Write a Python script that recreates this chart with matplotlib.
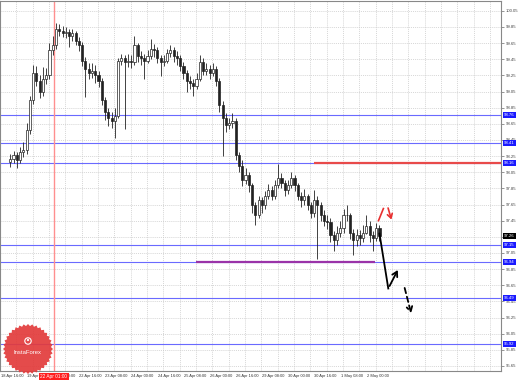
import numpy as np
import matplotlib
matplotlib.use('Agg')
import matplotlib.pyplot as plt
import matplotlib.transforms as mtransforms
from matplotlib.patches import Polygon, Circle

plt.rcParams['font.family'] = ['Liberation Sans', 'DejaVu Sans']

# 2-hour bars, x in trading hours from 18 Apr 16:00
open_first = 98.18
closes = [98.22, 98.26, 98.20, 98.30, 98.32, 98.57, 98.94, 99.28, 99.18, 99.04,
          99.21, 99.25, 99.56, 99.62, 99.83, 99.80, 99.78, 99.79, 99.74, 99.77,
          99.68, 99.62, 99.43, 99.33, 99.28, 99.31, 99.25, 99.18, 98.94, 98.79,
          98.72, 98.69, 98.75, 99.43, 99.46, 99.41, 99.43, 99.41, 99.62, 99.49,
          99.46, 99.43, 99.49, 99.58, 99.56, 99.46, 99.41, 99.43, 99.53, 99.56,
          99.49, 99.46, 99.37, 99.28, 99.18, 99.15, 99.12, 99.21, 99.41, 99.31,
          99.33, 99.28, 99.33, 99.18, 98.88, 98.72, 98.63, 98.66, 98.69, 98.26,
          98.13, 97.95, 98.01, 97.89, 97.64, 97.52, 97.70, 97.64, 97.76, 97.83,
          97.76, 97.89, 97.98, 97.92, 97.83, 97.89, 97.98, 97.89, 97.76, 97.70,
          97.76, 97.64, 97.55, 97.70, 97.64, 97.52, 97.45, 97.43, 97.27, 97.21,
          97.30, 97.36, 97.52, 97.52, 97.30, 97.21, 97.27, 97.24, 97.30, 97.39,
          97.27, 97.24, 97.36, 97.26]
highs = [98.28, 98.31, 98.30, 98.36, 98.43, 98.66, 99.00, 99.38, 99.36, 99.25,
         99.35, 99.34, 99.65, 99.74, 99.90, 99.89, 99.86, 99.85, 99.83, 99.83,
         99.80, 99.72, 99.66, 99.48, 99.40, 99.40, 99.38, 99.30, 99.22, 98.98,
         98.85, 98.80, 98.85, 99.47, 99.52, 99.50, 99.52, 99.50, 99.74, 99.65,
         99.55, 99.52, 99.57, 99.70, 99.64, 99.60, 99.50, 99.50, 99.58, 99.62,
         99.60, 99.55, 99.50, 99.42, 99.32, 99.24, 99.20, 99.28, 99.50, 99.46,
         99.40, 99.38, 99.40, 99.36, 99.22, 98.93, 98.78, 98.72, 98.78, 98.72,
         98.30, 98.20, 98.10, 98.05, 97.92, 97.68, 97.76, 97.74, 97.82, 97.90,
         97.88, 97.95, 98.15, 98.04, 97.96, 97.95, 98.05, 98.02, 97.92, 97.80,
         97.84, 97.78, 97.68, 97.83, 97.75, 97.68, 97.58, 97.52, 97.48, 97.32,
         97.38, 97.45, 97.60, 97.64, 97.55, 97.35, 97.35, 97.33, 97.40, 97.52,
         97.44, 97.32, 97.42, 97.40]
lows = [98.12, 98.17, 98.10, 98.16, 98.24, 98.28, 98.52, 98.90, 99.12, 98.97,
        99.00, 99.14, 99.20, 99.50, 99.58, 99.74, 99.72, 99.71, 99.60, 99.68,
        99.62, 99.55, 99.36, 98.98, 99.20, 99.22, 99.15, 99.10, 98.88, 98.70,
        98.62, 98.60, 98.48, 98.72, 99.38, 98.58, 99.35, 99.34, 99.38, 99.42,
        99.38, 99.20, 99.40, 99.45, 99.48, 99.40, 99.24, 99.36, 99.40, 99.48,
        99.42, 99.38, 99.30, 99.20, 99.05, 99.08, 99.00, 99.08, 99.18, 99.25,
        99.25, 99.20, 99.24, 99.12, 98.80, 98.25, 98.55, 98.58, 98.60, 98.20,
        98.05, 97.88, 97.90, 97.80, 97.55, 97.40, 97.48, 97.55, 97.60, 97.72,
        97.70, 97.72, 97.85, 97.85, 97.76, 97.78, 97.85, 97.82, 97.70, 97.62,
        97.65, 97.58, 97.48, 97.50, 96.98, 97.45, 97.38, 97.35, 97.18, 97.08,
        97.15, 97.25, 97.30, 97.45, 97.22, 97.03, 97.14, 97.15, 97.18, 97.28,
        97.18, 97.08, 97.20, 97.20]

time_labels = ['18 Apr 16:00', '19 Apr 08:00', '22 Apr 00:00', '22 Apr 16:00',
               '23 Apr 08:00', '24 Apr 00:00', '24 Apr 16:00', '25 Apr 08:00',
               '26 Apr 00:00', '26 Apr 16:00', '29 Apr 08:00', '30 Apr 00:00',
               '30 Apr 16:00', '1 May 08:00', '2 May 00:00']
time_pos = [0, 16, 32, 48, 64, 80, 96, 112, 128, 144, 160, 176, 192, 208, 224]

blue_levels = [98.76, 98.41, 98.16, 97.15, 96.94, 96.49, 95.92]
red_level = 98.16
purple_level = 96.94
current_price = 97.26
vline_pos = 33.6
vline_label = '22 Apr 01:00'

# hand-drawn forecast arrows (hour, price)
black_path = [(233.0, 97.29), (238.4, 96.61), (245.0, 96.87)]
black_dash = [(248.0, 96.65), (252.8, 96.27)]
red_path = [(232.4, 97.45), (235.4, 97.60), (237.8, 97.64), (240.8, 97.43)]

fig = plt.figure(figsize=(5.19, 3.80), dpi=100)
ax = fig.add_axes([0, 9/380, 501/519, 1 - 9/380 - 0.002])
ax.set_xlim(6.55, 307.4)
ax.set_ylim(95.588, 100.174)

# grid
yt = np.round(np.arange(100.05, 95.6, -0.2), 2)
ax.set_yticks(yt)
ax.set_yticklabels(['%.2f' % v for v in yt])
ax.yaxis.tick_right()
ax.tick_params(axis='y', labelsize=3.1, length=2, width=0.4, pad=1.2,
               colors='#444444')
ax.set_xticks(np.arange(0.7, 307, 10))
ax.tick_params(axis='x', length=0, labelbottom=False)
ax.grid(True, color='#c8c8c8', lw=0.5, ls=(0, (1.5, 1.5)))
for s in ax.spines.values():
    s.set_color('#888888')
    s.set_linewidth(0.8)

# candles
c = np.array(closes)
o = np.array([open_first] + closes[:-1])
x = 7 + 2 * np.arange(len(c))
up = c >= o
ax.vlines(x, lows, highs, color='#222222', lw=0.6, zorder=3)
ax.bar(x[up], (c - o)[up], bottom=o[up], width=1.3, color='white',
       edgecolor='#222222', lw=0.5, zorder=4)
ax.bar(x[~up], (c - o)[~up], bottom=o[~up], width=1.3, color='#222222',
       edgecolor='#222222', lw=0.5, zorder=4)

# levels
for lv in blue_levels:
    ax.axhline(lv, color='#6a6aff', lw=0.8, zorder=2)
ax.hlines(red_level, 193, 307.4, color='#e84a4a', lw=1.6, zorder=2.5)
ax.hlines(purple_level, 120.5, 230.5, color='#9a33a8', lw=1.6, zorder=2.5)
ax.axvline(vline_pos, color='#ff8f8f', lw=1.0, zorder=2)

# arrows
bx, by = zip(*black_path)
ax.plot(bx[:2], by[:2], color='black', lw=1.3, zorder=6)
ax.annotate('', xy=black_path[2], xytext=black_path[1],
            arrowprops=dict(arrowstyle='->,head_length=0.35,head_width=0.2',
                            color='black', lw=1.3), zorder=6)
ax.annotate('', xy=black_dash[1], xytext=black_dash[0],
            arrowprops=dict(arrowstyle='->,head_length=0.35,head_width=0.2',
                            color='black', lw=1.3, ls=(0, (3, 2))), zorder=6)
ax.plot([red_path[0][0], red_path[1][0]], [red_path[0][1], red_path[1][1]],
        color='#e83030', lw=1.2, zorder=6)
ax.annotate('', xy=red_path[3], xytext=red_path[2],
            arrowprops=dict(arrowstyle='->,head_length=0.3,head_width=0.18',
                            color='#e83030', lw=1.2), zorder=6)

# right-axis price boxes
tr = mtransforms.blended_transform_factory(ax.transAxes, ax.transData)
for lv in blue_levels:
    ax.text(1.006, lv, '%.2f' % lv, transform=tr, fontsize=3.1, color='white',
            va='center', ha='left', clip_on=False, zorder=10,
            bbox=dict(boxstyle='square,pad=0.25', fc='#1a1aff', ec='none'))
ax.text(1.006, current_price, '%.2f' % current_price, transform=tr,
        fontsize=3.1, color='white', va='center', ha='left', clip_on=False,
        zorder=11, bbox=dict(boxstyle='square,pad=0.25', fc='black', ec='none'))

# time labels
trx = mtransforms.blended_transform_factory(ax.transData, ax.transAxes)
for p, lab in zip(time_pos, time_labels):
    ax.text(p + 1.2, -0.008, lab, transform=trx, fontsize=2.9, color='#333333',
            va='top', ha='left', clip_on=False)
ax.text(vline_pos, -0.008, vline_label, transform=trx, fontsize=3.4,
        color='white', va='top', ha='center', clip_on=False, zorder=10,
        bbox=dict(boxstyle='square,pad=0.3', fc='#ff2020', ec='none'))

# InstaForex badge
ov = fig.add_axes([0, 0, 1, 1], zorder=20)
ov.set_xlim(0, 519)
ov.set_ylim(380, 0)
ov.axis('off')
ang = np.linspace(0, 2 * np.pi, 73)[:-1]
rad = np.where(np.arange(72) % 2 == 0, 25, 23)
ov.add_patch(Polygon(np.c_[28 + rad * np.cos(ang), 349 + rad * np.sin(ang)],
                     closed=True, fc='#e23b3b', ec='none', alpha=0.92))
ov.add_patch(Circle((28, 341), 3.2, fc='none', ec='white', lw=0.8))
ov.add_patch(Circle((28, 340), 1.1, fc='white', ec='none'))
ov.text(28, 353, 'InstaForex', fontsize=4.2, color='white', ha='center',
        va='center')

fig.savefig('out.png', dpi=100, facecolor='white')
